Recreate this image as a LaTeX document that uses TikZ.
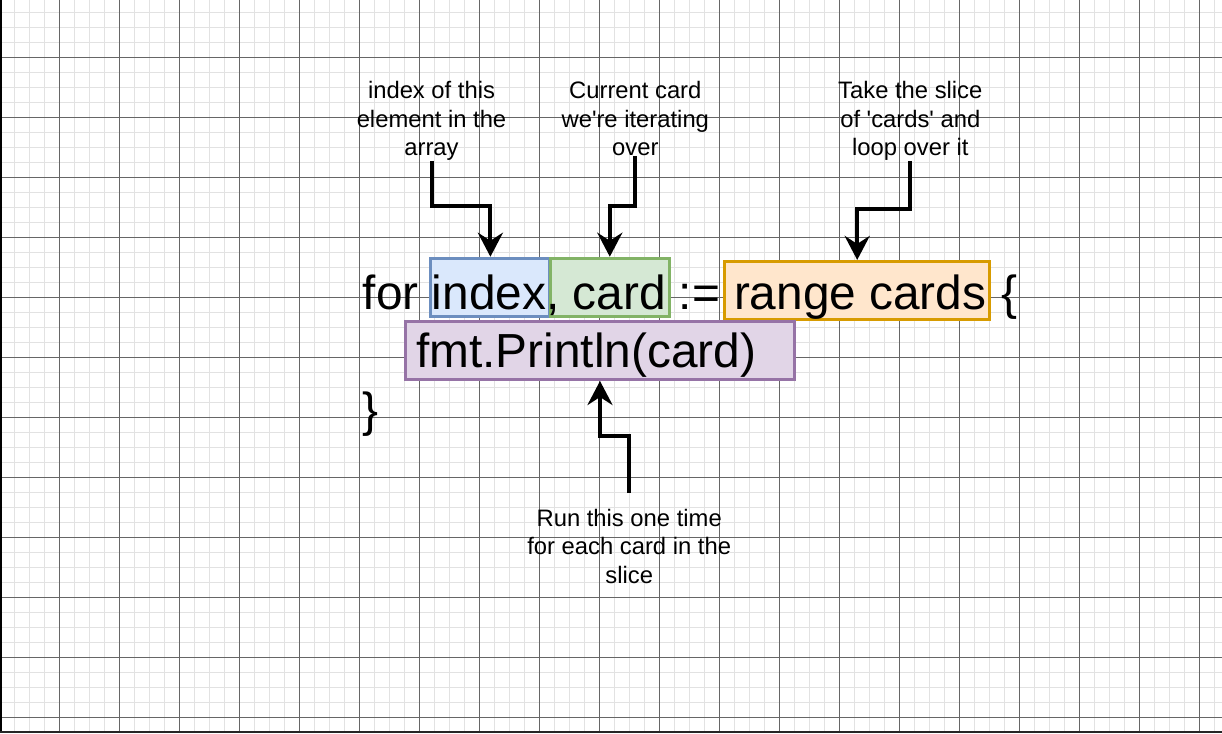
\documentclass[tikz,border=0pt]{standalone}
\usepackage{fontspec}
\setmainfont{Liberation Sans}[Ligatures=TeXOff]
\usetikzlibrary{arrows.meta}
\definecolor{gridminor}{HTML}{E2E2E2}
\definecolor{gridmajor}{HTML}{666666}
\definecolor{idxfill}{HTML}{DAE8FC}
\definecolor{idxline}{HTML}{6C8EBF}
\definecolor{crdfill}{HTML}{D5E8D4}
\definecolor{crdline}{HTML}{82B366}
\definecolor{rngfill}{HTML}{FFE6CC}
\definecolor{rngline}{HTML}{D79B00}
\definecolor{prnfill}{HTML}{E1D5E7}
\definecolor{prnline}{HTML}{9673A6}
\begin{document}
\begin{tikzpicture}[
    x=1pt, y=-1pt,
    minorline/.style={gridminor, line width=1.3pt},
    majorline/.style={gridmajor, line width=1pt},
    codebox/.style={rectangle, line width=3pt, inner sep=0pt},
    codetext/.style={anchor=base west, inner sep=0pt, font=\fontsize{47.8}{57}\selectfont},
    note/.style={anchor=north, align=center, inner sep=0pt, font=\fontsize{23.8}{28.4}\selectfont},
    pointer/.style={line width=4pt, -{Stealth[length=24pt, width=25pt, inset=8pt]}}
  ]
  \useasboundingbox (0,0) rectangle (1222,733);
  \fill[white] (0,0) rectangle (1222,733);
  % grid
  \foreach \gx in {14.3,29.3,...,1222} \draw[minorline] (\gx,0) -- (\gx,733);
  \foreach \gy in {12.3,27.3,...,733} \draw[minorline] (0,\gy) -- (1222,\gy);
  \foreach \gx in {59.3,119.3,...,1222} \draw[majorline] (\gx,0) -- (\gx,733);
  \foreach \gy in {57.3,117.3,...,733} \draw[majorline] (0,\gy) -- (1222,\gy);
  \fill[black] (0,0) rectangle (1.5,733);
  \fill[black!85] (0,731) rectangle (1222,733);

  % boxes
  \node[codebox, fill=idxfill, draw=idxline, minimum width=119pt, minimum height=58.3pt] (idx) at (490.4,287.4) {};
  \node[codebox, fill=crdfill, draw=crdline, minimum width=119.5pt, minimum height=58.3pt] (crd) at (609.8,287.4) {};
  \node[codebox, fill=rngfill, draw=rngline, minimum width=264.7pt, minimum height=57.7pt] (rng) at (857.2,290.3) {};
  \node[codebox, fill=prnfill, draw=prnline, minimum width=389pt, minimum height=58pt] (prn) at (600,350.5) {};

  % code
  \node[codetext] (forline) at (362.6,309) {for index, card};
  \node[codetext] (assign) at (678.6,309) {:=};
  \node[codetext] (rangetxt) at (733.8,309) {range cards};
  \node[codetext] (openbrace) at (1001.5,309) {\{};
  \node[codetext] (body) at (416,367) {fmt.Println(card)};
  \node[codetext] (closebrace) at (362,426) {\}};

  % notes
  \node[note] (idxnote) at (431.5,81.5) {index of this\\element in the\\array};
  \node[note] (crdnote) at (635.3,81.5) {Current card\\we're iterating\\over};
  \node[note] (rngnote) at (910.3,81.5) {Take the slice\\of 'cards' and\\loop over it};
  \node[note] (prnnote) at (629.2,509) {Run this one time\\for each card in the\\slice};

  \draw[pointer] (idxnote.south) -- ++(0,45) -| (idx.north);
  \draw[pointer] (crdnote.south) -- ++(0,50) -| (crd.north);
  \draw[pointer] (rngnote.south) -- ++(0,48) -| (rng.north);
  \draw[pointer] (prnnote.north) ++(0,-16) -- ++(0,-56.6) -| (prn.south);
\end{tikzpicture}
\end{document}
